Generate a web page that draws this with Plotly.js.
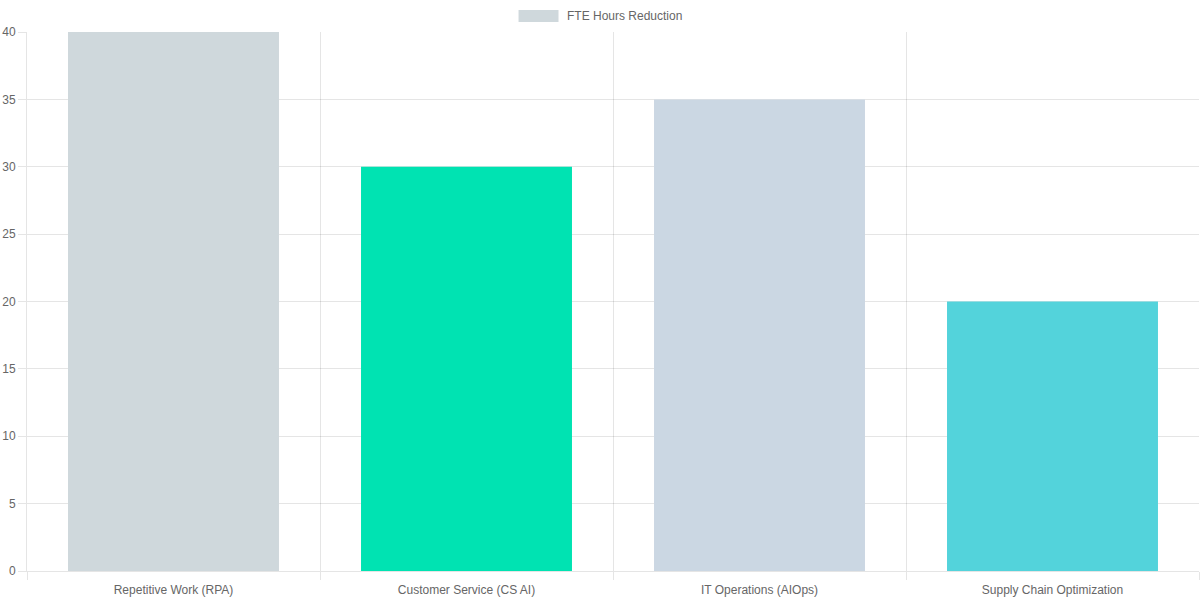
<!DOCTYPE html>
<html>
<head>
<meta charset="utf-8">
<script src="https://cdn.plot.ly/plotly-3.0.1.min.js"></script>
<style>
  html, body { margin: 0; padding: 0; background: #fff; }
  #chart { width: 1200px; height: 600px; }
</style>
</head>
<body>
<div id="chart"></div>
<script>
// data
const categories = ['Repetitive Work (RPA)', 'Customer Service (CS AI)', 'IT Operations (AIOps)', 'Supply Chain Optimization'];
const fteReduction = [40, 30, 35, 20];
const barColors = ['#cfd8dc', '#00e3b2', '#cbd7e3', '#53d3db'];
const seriesName = 'FTE Hours Reduction';

const gridColor = 'rgba(0,0,0,0.1)';
const textColor = '#666';

const trace = {
  type: 'bar',
  x: categories,
  y: fteReduction,
  name: seriesName,
  marker: { color: barColors },
  showlegend: false,
  hoverinfo: 'x+y'
};

const layout = {
  width: 1200,
  height: 600,
  margin: { l: 27, r: 1, t: 32, b: 29 },
  paper_bgcolor: '#fff',
  plot_bgcolor: '#fff',
  font: { family: 'Liberation Sans, Arial, sans-serif', size: 12, color: textColor },
  bargap: 0.28,
  xaxis: {
    type: 'category',
    tickson: 'boundaries',
    showgrid: true,
    gridcolor: gridColor,
    ticks: 'outside',
    ticklen: 8,
    tickcolor: gridColor,
    ticklabelstandoff: 8,
    showline: true,
    linecolor: gridColor,
    zeroline: false,
    fixedrange: true
  },
  yaxis: {
    range: [0, 40],
    dtick: 5,
    showgrid: true,
    gridcolor: gridColor,
    ticks: 'outside',
    ticklen: 8,
    tickcolor: gridColor,
    showline: true,
    linecolor: gridColor,
    zeroline: false,
    fixedrange: true
  },
  shapes: [{
    type: 'rect', xref: 'paper', yref: 'paper',
    x0: 0.4194, x1: 0.4535, y0: 1.0186, y1: 1.0408,
    fillcolor: barColors[0], line: { width: 0 }
  }],
  annotations: [{
    xref: 'paper', yref: 'paper', x: 0.4587, y: 1.0297,
    xanchor: 'left', yanchor: 'middle', showarrow: false,
    text: seriesName, font: { size: 12, color: textColor }
  }]
};

Plotly.newPlot('chart', [trace], layout, { displayModeBar: false });
</script>
</body>
</html>
